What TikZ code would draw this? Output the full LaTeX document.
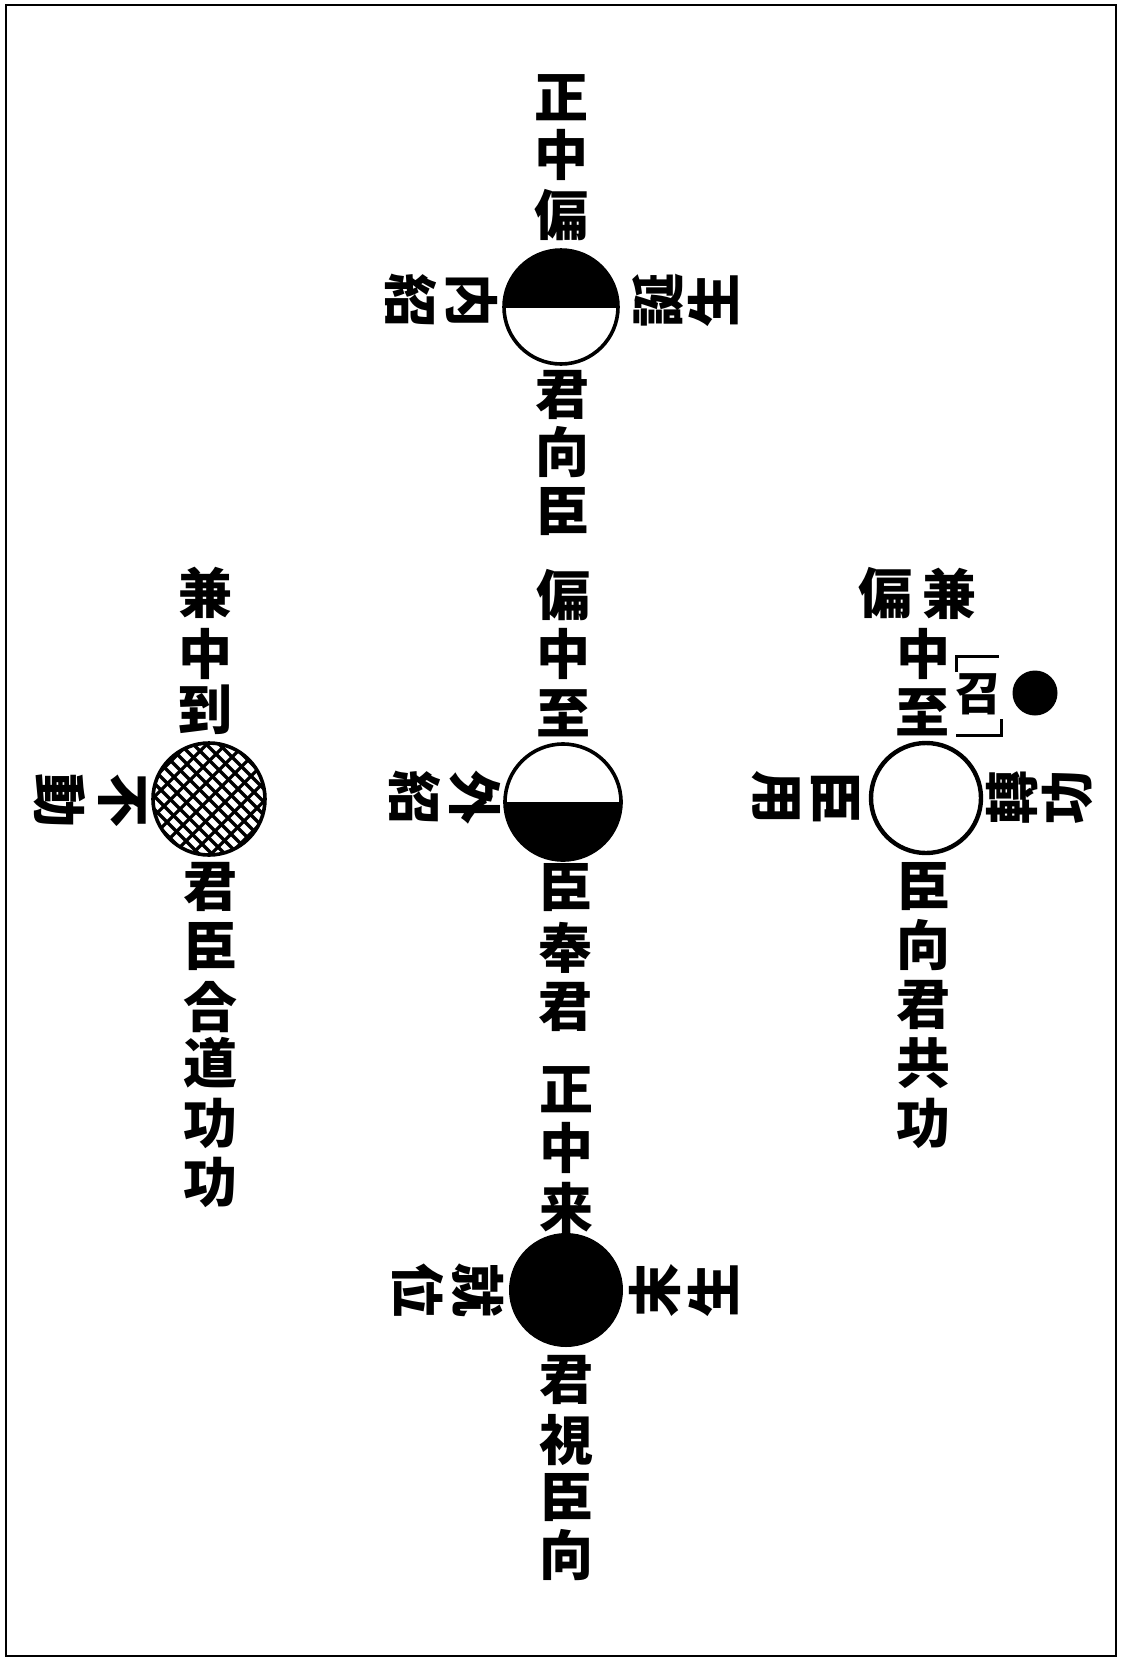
\documentclass[tikz,border=0pt]{standalone}
\usepackage{fontspec}
\newfontfamily\cjk{Noto Sans CJK JP}
\tikzset{
  ch/.style={font=\cjk\bfseries\fontsize{54}{54}\selectfont, inner sep=0pt, anchor=center},
  chl/.style={ch, rotate=-90},
  chr/.style={ch, rotate=90},
  ring/.style={draw=black, line width=3.6pt},
  hatchline/.style={line width=3.2pt},
}
\begin{document}
\begin{tikzpicture}[x=1pt,y=-1pt]
\useasboundingbox (0,0) rectangle (1120,1660);
\fill[white] (0,0) rectangle (1120,1660);
\draw[line width=1.8pt] (6,5) rectangle (1116,1656);

% ---------- top circle (upper half black) ----------
\begin{scope}
  \clip (504,250) rectangle (618,307);
  \fill (561,307) circle[radius=57];
\end{scope}
\node[circle, ring, minimum size=114pt, inner sep=0pt] (ctop) at (561,307) {};
\node[ch] (t1) at (561,98) {正};
\node[ch] (t2) at (561,155) {中};
\node[ch] (t3) at (561,215) {偏};
\node[ch] (t4) at (562,395) {君};
\node[ch] (t5) at (562,452) {向};
\node[ch] (t6) at (562,512) {臣};
\node[chl] (t7) at (472,300) {内};
\node[chl] (t8) at (411,300) {紹};
\node[chr] (t9) at (658,300) {誕};
\node[chr] (t10) at (713,300) {生};

% ---------- middle circle (lower half black) ----------
\begin{scope}
  \clip (505,802) rectangle (621,861);
  \fill (563,802) circle[radius=58];
\end{scope}
\node[circle, ring, minimum size=116pt, inner sep=0pt] (cmid) at (563,802) {};
\node[ch] (m1) at (563,595) {偏};
\node[ch] (m2) at (563,654) {中};
\node[ch] (m3) at (563,713) {至};
\node[chl] (m4) at (475,797) {外};
\node[chl] (m5) at (415,797) {紹};
\node[ch] (m6) at (565,888) {臣};
\node[ch] (m7) at (565,948) {奉};
\node[ch] (m8) at (565,1007) {君};

% ---------- bottom circle (all black) ----------
\node[circle, fill=black, minimum size=114pt, inner sep=0pt] (cbot) at (566,1290) {};
\node[ch] (b1) at (566,1090) {正};
\node[ch] (b2) at (566,1148) {中};
\node[ch] (b3) at (566,1208) {来};
\node[chl] (b4) at (478,1290) {就};
\node[chl] (b5) at (418,1290) {位};
\node[chr] (b6) at (655,1290) {末};
\node[chr] (b7) at (713,1290) {生};
\node[ch] (b8) at (566,1380) {君};
\node[ch] (b9) at (566,1440) {視};
\node[ch] (b10) at (566,1498) {臣};
\node[ch] (b11) at (566,1555) {向};

% ---------- left circle (hatched) ----------
\begin{scope}
  \clip (209,799) circle[radius=56];
  \foreach \i in {-8,...,8} {
    \draw[hatchline] ({209+\i*13-80},719) -- ++(160,160);
  }
  \foreach \i in {-5,...,5} {
    \draw[hatchline] ({209+\i*19-80},879) -- ++(160,-160);
  }
\end{scope}
\node[circle, ring, minimum size=112pt, inner sep=0pt] (cleft) at (209,799) {};
\node[ch] (l1) at (205,593) {兼};
\node[ch] (l2) at (205,654) {中};
\node[ch] (l3) at (205,710) {到};
\node[chl] (l4) at (122,800) {不};
\node[chl] (l5) at (60,800) {動};
\node[ch] (l6) at (210,887) {君};
\node[ch] (l7) at (210,947) {臣};
\node[ch] (l8) at (210,1007) {合};
\node[ch] (l9) at (210,1063) {道};
\node[ch] (l10) at (210,1123) {功};
\node[ch] (l11) at (210,1182) {功};

% ---------- right circle (white) ----------
\node[circle, ring, line width=4.4pt, minimum size=110pt, inner sep=0pt] (cright) at (926,798) {};
\node[ch] (r1) at (885,593) {偏};
\node[ch] (r2) at (949,594) {兼};
\node[ch] (r3) at (923,654) {中};
\node[ch] (r4) at (922,712) {至};
\node[ch, font=\cjk\bfseries\fontsize{46}{46}\selectfont] (r5) at (978,694) {召};
\coordinate (bra1) at (956,672);
\coordinate (bra2) at (956,656);
\coordinate (bra3) at (999,656);
\coordinate (bra4) at (1001,719);
\coordinate (bra5) at (1001,735);
\coordinate (bra6) at (956,735);
\draw[line width=3pt] (bra1) -- (bra2) -- (bra3);
\draw[line width=3pt] (bra4) -- (bra5) -- (bra6);
\node[circle, fill=black, minimum size=45pt, inner sep=0pt] (dot) at (1035,693) {};
\node[chl] (r6) at (835,797) {臣};
\node[chl] (r7) at (776,797) {用};
\node[chr] (r8) at (1012,797) {轉};
\node[chr] (r9) at (1067,797) {功};
\node[ch] (r10) at (923,887) {臣};
\node[ch] (r11) at (923,945) {向};
\node[ch] (r12) at (923,1005) {君};
\node[ch] (r13) at (923,1063) {共};
\node[ch] (r14) at (923,1123) {功};
\end{tikzpicture}
\end{document}
